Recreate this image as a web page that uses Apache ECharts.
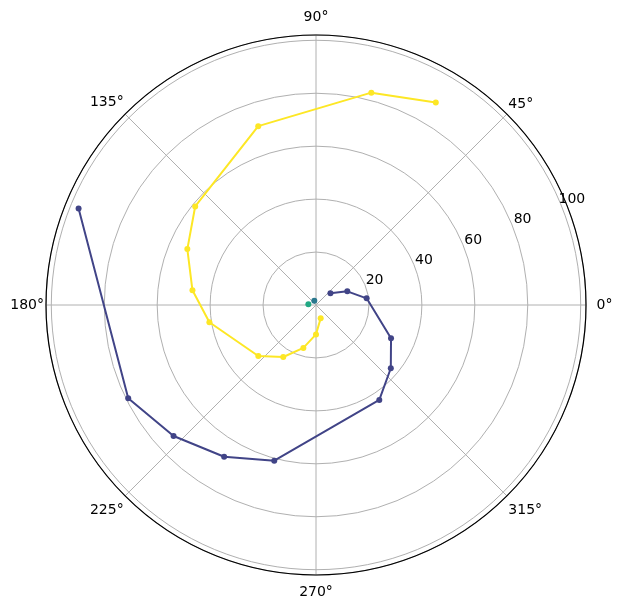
<!DOCTYPE html>
<html>
<head>
<meta charset="utf-8">
<script src="https://cdn.jsdelivr.net/npm/echarts@6/dist/echarts.min.js"></script>
<style>html,body{margin:0;padding:0;background:#fff;}#c{width:622px;height:611px;}</style>
</head>
<body>
<div id="c"></div>
<script>
// Series data: radius values and angles (degrees)
const blueR = [7.0, 12.9, 19.3, 31.0, 37.0, 43.1, 60.9, 67.0, 73.1, 79.2, 96.8];
const blueTheta = [38.9, 23.6, 7.5, 336.1, 319.8, 303.7, 255.0, 238.8, 222.6, 206.4, 157.9];
const tealR = [1.75];
const tealTheta = [111.6];
const greenR = [2.9];
const greenTheta = [175.0];
const yellowR = [5.3, 11.1, 16.9, 23.2, 29.1, 40.8, 47.0, 53.0, 58.9, 71.0, 82.9, 88.9];
const yellowTheta = [289.5, 270.0, 253.6, 237.8, 221.5, 189.2, 173.2, 156.5, 140.8, 107.9, 75.4, 59.4];
const radialTicks = [20, 40, 60, 80, 100];
const angleTicks = [0, 45, 90, 135, 180, 225, 270, 315];

function pairs(r, t) { return r.map((v, i) => [v, t[i]]); }

const FONT = 'DejaVu Sans';
const FS = 14;
const GRID = '#b0b0b0';

const chart = echarts.init(document.getElementById('c'), null, {renderer: 'canvas'});

function mkSeries(name, r, t, color) {
  return {
    name: name, type: 'line', coordinateSystem: 'polar', polarIndex: 0,
    data: pairs(r, t), symbol: 'circle', symbolSize: 6, showSymbol: true,
    lineStyle: {color: color, width: 2}, itemStyle: {color: color},
    animation: false, z: 5
  };
}

function rs(pad) { return {padding: pad, fontFamily: FONT, fontSize: FS, color: '#000'}; }

const labelStyleKey = {0: 'a0', 45: 'a45', 90: 'a90', 135: 'a135', 225: 'a225', 270: 'a270', 315: 'a315'};

chart.setOption({
  animation: false,
  backgroundColor: '#ffffff',
  polar: [
    {center: [316, 305], radius: 270},
    {center: [316, 305], radius: [10, 282.3]}
  ],
  angleAxis: [
    {
      polarIndex: 0, type: 'value', min: 0, max: 360, interval: 45,
      startAngle: 0, clockwise: false, z: 3,
      axisLine: {show: true, lineStyle: {color: '#000', width: 1.2}},
      axisTick: {show: false},
      splitLine: {show: true, lineStyle: {color: GRID, width: 1}},
      axisLabel: {
        show: true, margin: 2, color: '#000', fontFamily: FONT, fontSize: FS,
        formatter: function (v) {
          const a = Math.round(v);
          if (angleTicks.indexOf(a) < 0) return '';
          const s = a + '°';
          const k = labelStyleKey[a];
          return k ? '{' + k + '|' + s + '}' : s;
        },
        rich: {
          a0: rs([0, 0, 0, 8.5]),
          a45: rs([0, 0, 1, 0]),
          a90: rs([0, 0, 9, 0]),
          a135: rs([0, 0, 3, 0]),
          a225: rs([6, 0, 0, 0]),
          a270: rs([8, 0, 0, 0]),
          a315: rs([6, 0, 0, 0])
        }
      }
    },
    {
      polarIndex: 1, type: 'value', min: 0, max: 360, startAngle: 22.5, clockwise: false,
      axisLine: {show: false}, axisTick: {show: false}, splitLine: {show: false}, axisLabel: {show: false}
    }
  ],
  radiusAxis: [
    {
      polarIndex: 0, type: 'value', min: 0, max: 102, interval: 20, z: 1,
      axisLine: {show: false}, axisTick: {show: false}, axisLabel: {show: false},
      splitLine: {show: true, lineStyle: {color: GRID, width: 1}}
    },
    {
      polarIndex: 1, type: 'value', min: 0, max: 102, interval: 20, z: 4,
      axisLine: {show: false}, axisTick: {show: false}, splitLine: {show: false},
      axisLabel: {
        show: true, margin: 0, align: 'center', verticalAlign: 'middle', rotate: 0,
        color: '#000', fontFamily: FONT, fontSize: FS,
        formatter: function (v) { return radialTicks.indexOf(Math.round(v)) >= 0 && Math.abs(v - Math.round(v)) < 1e-6 ? String(Math.round(v)) : ''; }
      }
    }
  ],
  series: [
    mkSeries('s1', blueR, blueTheta, '#414487'),
    mkSeries('s2', tealR, tealTheta, '#2a788e'),
    mkSeries('s3', greenR, greenTheta, '#22a884'),
    mkSeries('s4', yellowR, yellowTheta, '#fde725')
  ]
});
</script>
</body>
</html>
